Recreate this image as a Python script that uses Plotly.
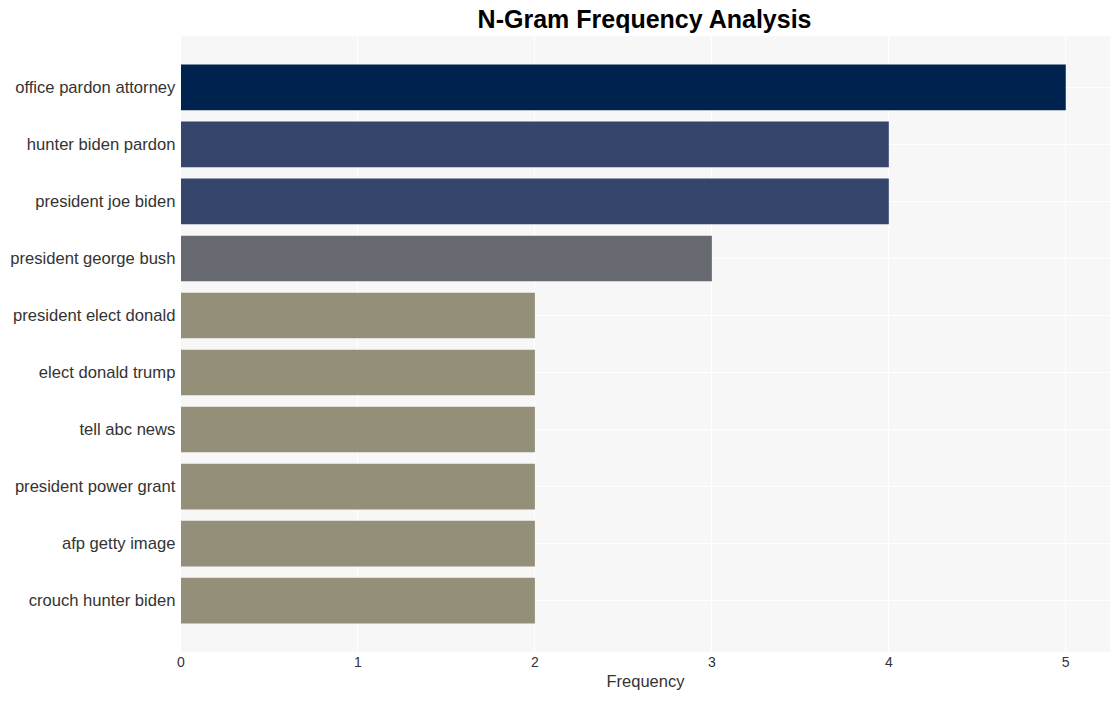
import plotly.graph_objects as go

ngrams = ["office pardon attorney", "hunter biden pardon", "president joe biden",
          "president george bush", "president elect donald", "elect donald trump",
          "tell abc news", "president power grant", "afp getty image", "crouch hunter biden"]
freq = [5, 4, 4, 3, 2, 2, 2, 2, 2, 2]
color_by_value = {5: "#00224e", 4: "#35456c", 3: "#666970", 2: "#948f78"}

ys = ngrams[::-1]
xs = freq[::-1]
colors = [color_by_value[v] for v in xs]

fig = go.Figure(go.Bar(x=xs, y=ys, orientation="h", marker=dict(color=colors, line=dict(width=0)),
                       width=0.8))
fig.update_layout(
    width=1120, height=701,
    margin=dict(l=181, r=10, t=36, b=49),
    paper_bgcolor="white", plot_bgcolor="#f7f7f7",
    font=dict(family="Liberation Sans, Arial, sans-serif", color="#333"),
    title=dict(text="<b>N-Gram Frequency Analysis</b>", x=0.5755, xanchor="center", y=0.972, yanchor="middle",
               font=dict(size=25, color="black")),
    xaxis=dict(range=[0, 5.25], tickvals=[0, 1, 2, 3, 4, 5], gridcolor="white", gridwidth=1,
               zeroline=False, tickfont=dict(size=14), automargin=False,
               title=dict(text="Frequency", font=dict(size=16.5), standoff=6)),
    yaxis=dict(range=[-0.9, 9.9], gridcolor="white", tickfont=dict(size=16.6), ticksuffix=" ",
               type="category", automargin=False),
    showlegend=False,
)
fig.write_html("out.html")
